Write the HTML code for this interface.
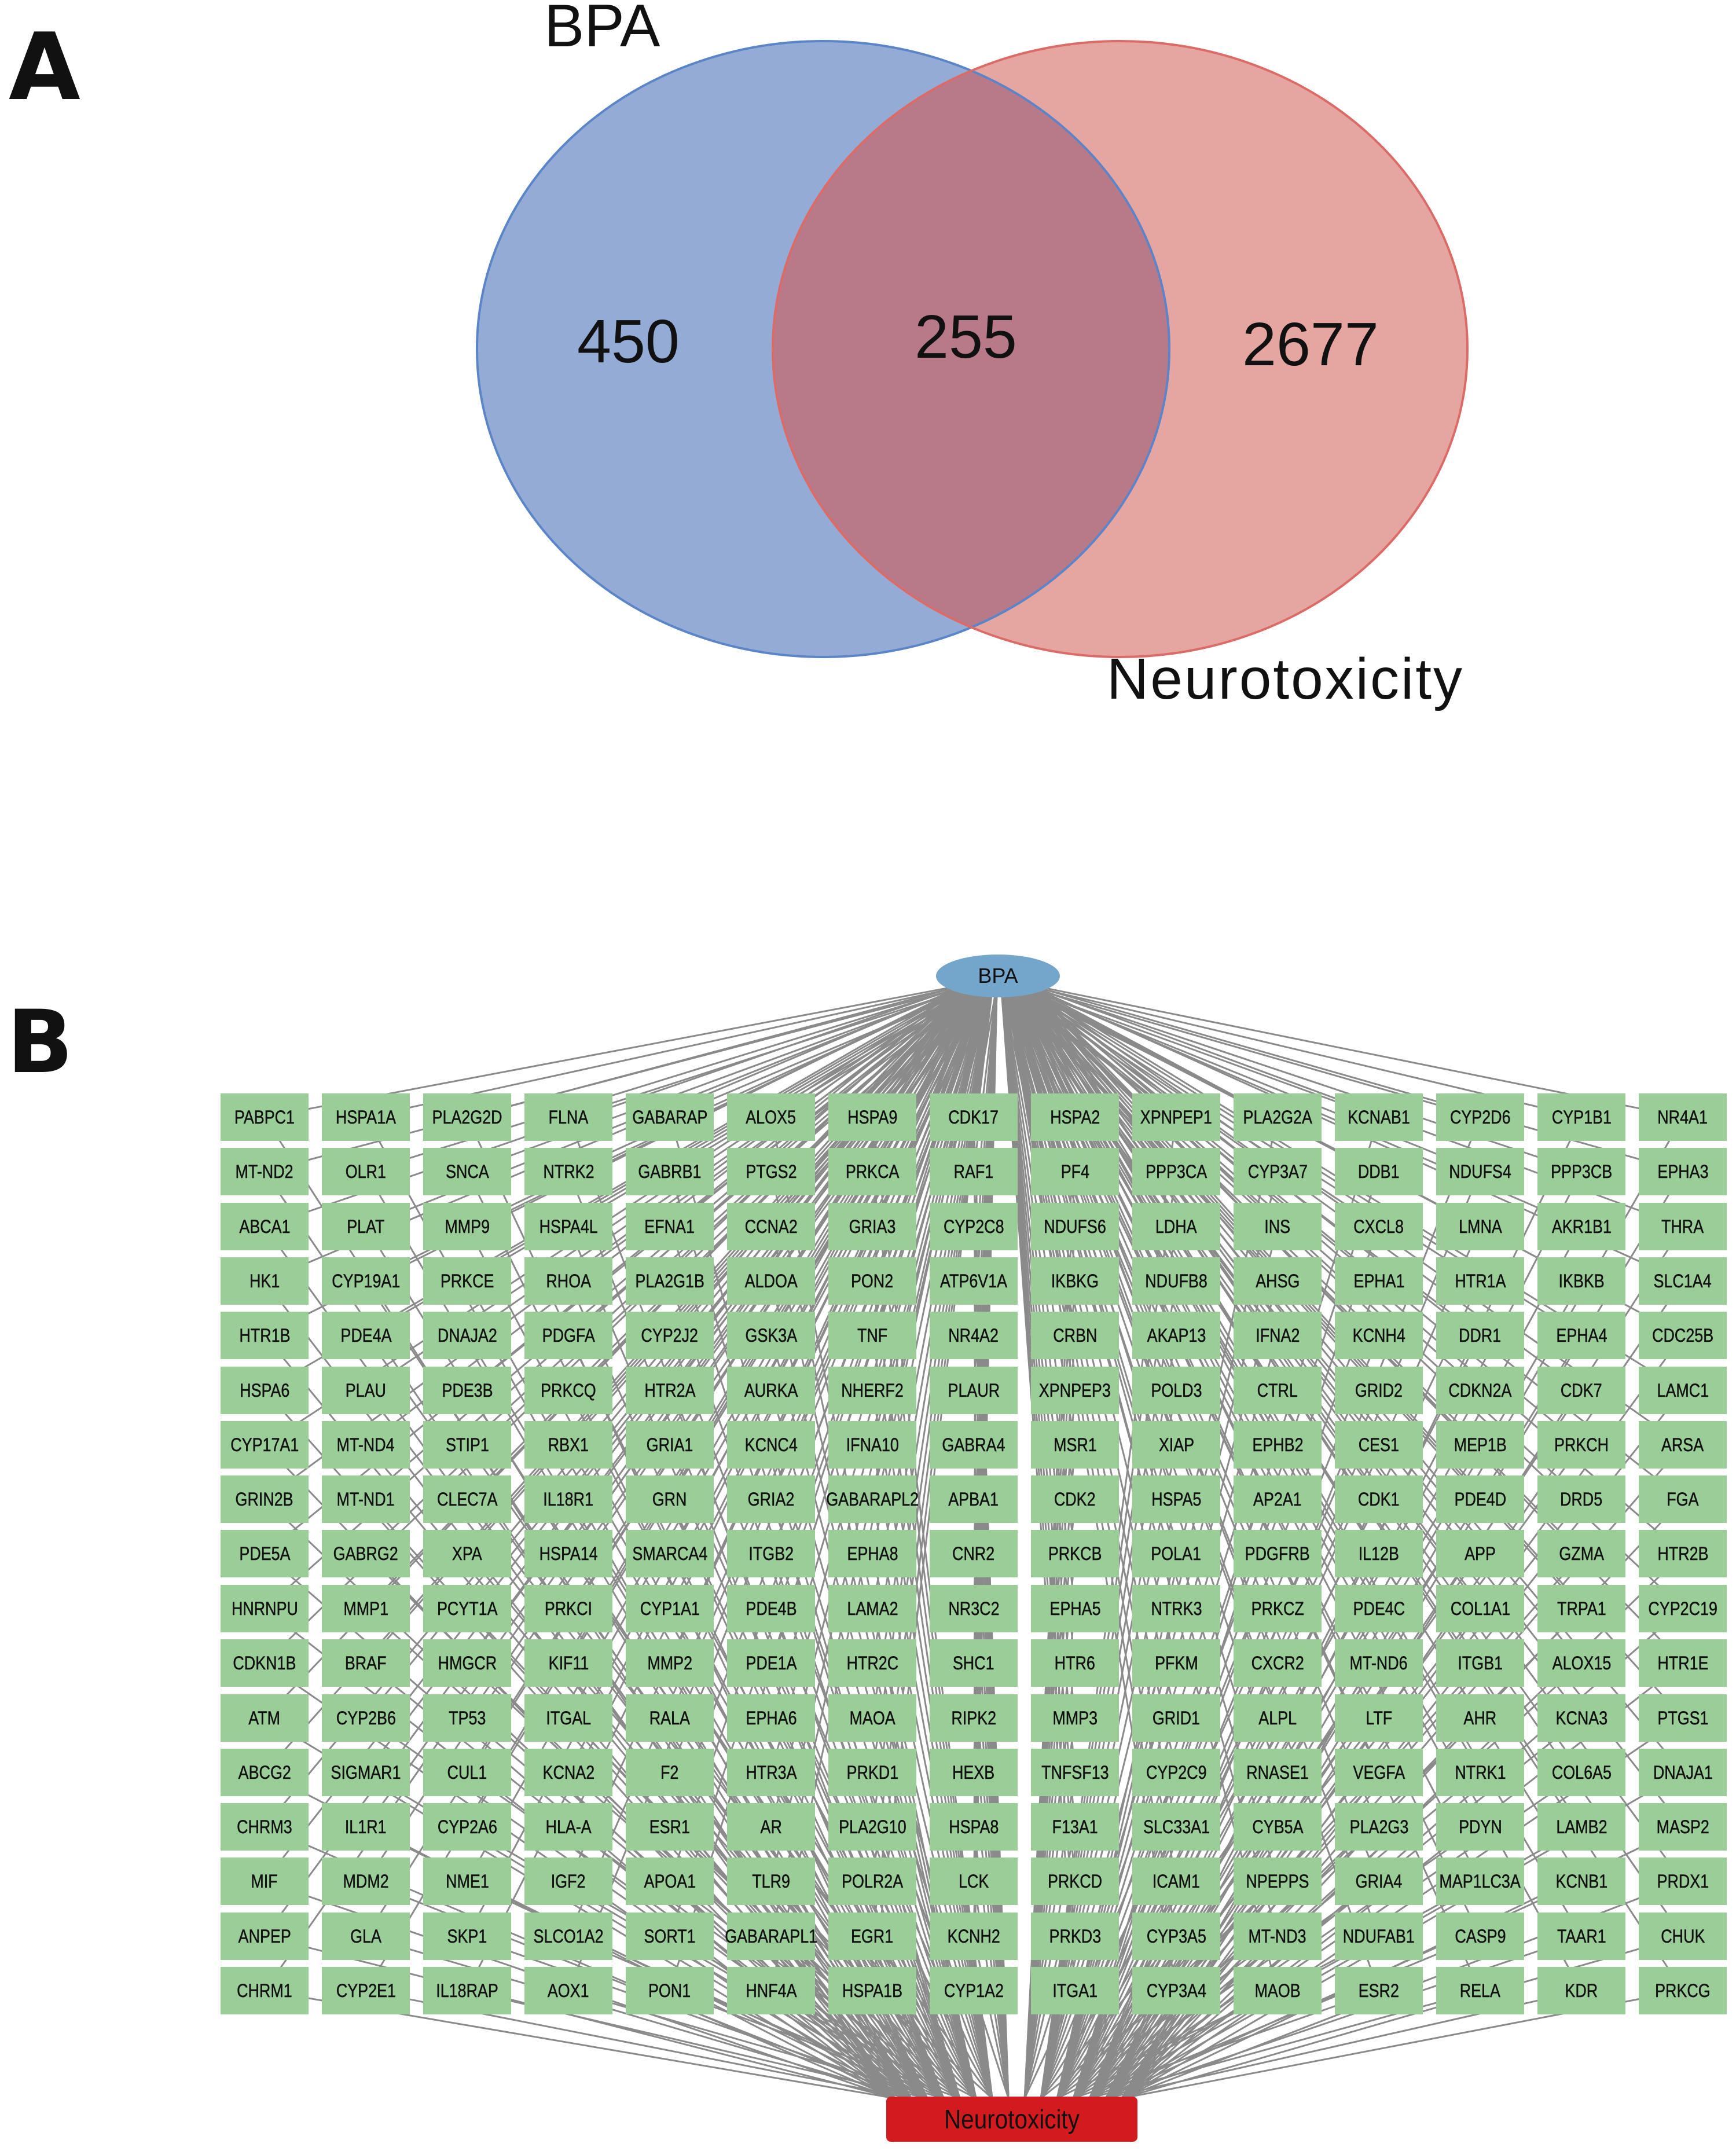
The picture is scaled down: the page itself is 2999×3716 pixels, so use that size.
<!DOCTYPE html>
<html><head><meta charset="utf-8">
<style>
html,body{margin:0;padding:0;background:#fff;}
body{width:2999px;height:3716px;position:relative;overflow:hidden;font-family:"Liberation Sans",sans-serif;}
.n{position:absolute;width:152px;height:82px;background:#9acd97;display:flex;align-items:center;justify-content:center;font-size:32px;color:#111;white-space:nowrap;-webkit-text-stroke:0.5px #111;}
.n span{display:inline-block;transform:scaleX(0.84);}
.lbl{position:absolute;color:#111;white-space:nowrap;}
svg{position:absolute;left:0;top:0;}
</style></head><body>
<svg width="2999" height="3716">
<defs><clipPath id="cb"><ellipse cx="1422" cy="603" rx="598" ry="532"/></clipPath></defs>
<ellipse cx="1422" cy="603" rx="598" ry="532" fill="#94abd6"/>
<ellipse cx="1935" cy="603" rx="600" ry="532" fill="#e5a5a1"/>
<ellipse cx="1935" cy="603" rx="600" ry="532" fill="#b87a89" clip-path="url(#cb)"/>
<ellipse cx="1422" cy="603" rx="598" ry="532" fill="none" stroke="#5b85c8" stroke-width="4"/>
<ellipse cx="1935" cy="603" rx="600" ry="532" fill="none" stroke="#dc6b68" stroke-width="4"/>
<g id="edges" stroke="#8a8a8a" stroke-width="3"></g>
</svg>
<div class="lbl" style="left:15px;top:22px;font-size:160px;font-weight:900;font-family:'DejaVu Sans',sans-serif;">A</div>
<div class="lbl" style="left:940px;top:-14px;font-size:104px;">BPA</div>
<div class="lbl" style="left:997px;top:530px;font-size:106px;">450</div>
<div class="lbl" style="left:1580px;top:522px;font-size:106px;">255</div>
<div class="lbl" style="left:2146px;top:535px;font-size:106px;">2677</div>
<div class="lbl" style="left:1912px;top:1116px;font-size:100px;letter-spacing:3px;">Neurotoxicity</div>
<div class="lbl" style="left:12px;top:1714px;font-size:150px;font-weight:900;font-family:'DejaVu Sans',sans-serif;">B</div>
<div style="position:absolute;left:1617px;top:1649px;width:214px;height:74px;border-radius:50%;background:#74a6cc;display:flex;align-items:center;justify-content:center;font-size:36px;color:#111;">BPA</div>
<div style="position:absolute;left:1531px;top:3622px;width:434px;height:78px;border-radius:8px;background:#d21a1f;display:flex;align-items:center;justify-content:center;font-size:46px;color:#111;"><span style="display:inline-block;transform:scaleX(0.88)">Neurotoxicity</span></div>
<div id="grid"></div>
<script>
(function(){
var L=[
"PABPC1 HSPA1A PLA2G2D FLNA GABARAP ALOX5 HSPA9 CDK17 HSPA2 XPNPEP1 PLA2G2A KCNAB1 CYP2D6 CYP1B1 NR4A1",
"MT-ND2 OLR1 SNCA NTRK2 GABRB1 PTGS2 PRKCA RAF1 PF4 PPP3CA CYP3A7 DDB1 NDUFS4 PPP3CB EPHA3",
"ABCA1 PLAT MMP9 HSPA4L EFNA1 CCNA2 GRIA3 CYP2C8 NDUFS6 LDHA INS CXCL8 LMNA AKR1B1 THRA",
"HK1 CYP19A1 PRKCE RHOA PLA2G1B ALDOA PON2 ATP6V1A IKBKG NDUFB8 AHSG EPHA1 HTR1A IKBKB SLC1A4",
"HTR1B PDE4A DNAJA2 PDGFA CYP2J2 GSK3A TNF NR4A2 CRBN AKAP13 IFNA2 KCNH4 DDR1 EPHA4 CDC25B",
"HSPA6 PLAU PDE3B PRKCQ HTR2A AURKA NHERF2 PLAUR XPNPEP3 POLD3 CTRL GRID2 CDKN2A CDK7 LAMC1",
"CYP17A1 MT-ND4 STIP1 RBX1 GRIA1 KCNC4 IFNA10 GABRA4 MSR1 XIAP EPHB2 CES1 MEP1B PRKCH ARSA",
"GRIN2B MT-ND1 CLEC7A IL18R1 GRN GRIA2 GABARAPL2 APBA1 CDK2 HSPA5 AP2A1 CDK1 PDE4D DRD5 FGA",
"PDE5A GABRG2 XPA HSPA14 SMARCA4 ITGB2 EPHA8 CNR2 PRKCB POLA1 PDGFRB IL12B APP GZMA HTR2B",
"HNRNPU MMP1 PCYT1A PRKCI CYP1A1 PDE4B LAMA2 NR3C2 EPHA5 NTRK3 PRKCZ PDE4C COL1A1 TRPA1 CYP2C19",
"CDKN1B BRAF HMGCR KIF11 MMP2 PDE1A HTR2C SHC1 HTR6 PFKM CXCR2 MT-ND6 ITGB1 ALOX15 HTR1E",
"ATM CYP2B6 TP53 ITGAL RALA EPHA6 MAOA RIPK2 MMP3 GRID1 ALPL LTF AHR KCNA3 PTGS1",
"ABCG2 SIGMAR1 CUL1 KCNA2 F2 HTR3A PRKD1 HEXB TNFSF13 CYP2C9 RNASE1 VEGFA NTRK1 COL6A5 DNAJA1",
"CHRM3 IL1R1 CYP2A6 HLA-A ESR1 AR PLA2G10 HSPA8 F13A1 SLC33A1 CYB5A PLA2G3 PDYN LAMB2 MASP2",
"MIF MDM2 NME1 IGF2 APOA1 TLR9 POLR2A LCK PRKCD ICAM1 NPEPPS GRIA4 MAP1LC3A KCNB1 PRDX1",
"ANPEP GLA SKP1 SLCO1A2 SORT1 GABARAPL1 EGR1 KCNH2 PRKD3 CYP3A5 MT-ND3 NDUFAB1 CASP9 TAAR1 CHUK",
"CHRM1 CYP2E1 IL18RAP AOX1 PON1 HNF4A HSPA1B CYP1A2 ITGA1 CYP3A4 MAOB ESR2 RELA KDR PRKCG"];
var rows=[1889,1983,2078,2172,2266,2361,2455,2549,2643,2738,2832,2927,3021,3115,3209,3304,3398];
var g=document.getElementById('edges'),s='',h='';
for(var j=0;j<17;j++){var w=L[j].split(' ');for(var i=0;i<15;i++){
 var x=381+175*i, cx=x+76, cy=rows[j]+41;
 h+='<div class="n" style="left:'+x+'px;top:'+rows[j]+'px"><span>'+w[i]+'</span></div>';
 var bx=1724+(cx-1724)*0.04, tx=1745+(cx-1700)*0.16;
 s+='<line x1="'+bx+'" y1="1700" x2="'+cx+'" y2="'+cy+'"/><line x1="'+cx+'" y1="'+cy+'" x2="'+tx+'" y2="3625"/>';
}}
g.innerHTML=s;document.getElementById('grid').innerHTML=h;
})();
</script>
</body></html>
